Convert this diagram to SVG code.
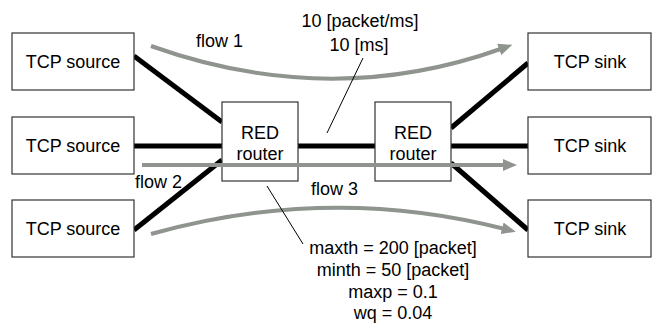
<svg xmlns="http://www.w3.org/2000/svg" width="654" height="323" viewBox="0 0 654 323">
  <style>
    text { font-family: "Liberation Sans", Arial, sans-serif; font-size: 18px; fill: #000; }
    .box { fill: #fff; stroke: #333; stroke-width: 1.2; }
    .link { stroke: #000; stroke-width: 5; fill: none; }
    .flow { stroke: #8f948f; stroke-width: 4; fill: none; marker-end: url(#head); }
    .leader { stroke: #000; stroke-width: 1; fill: none; }
  </style>
  <defs>
    <marker id="head" viewBox="0 0 14 12" markerWidth="14" markerHeight="12" refX="3" refY="6" orient="auto" markerUnits="userSpaceOnUse">
      <path d="M0,0 L14,6 L0,12 z" fill="#8f948f"/>
    </marker>
  </defs>

  <!-- physical links -->
  <g id="links">
    <line class="link" x1="134" y1="56" x2="222" y2="122"/>
    <line class="link" x1="134" y1="146" x2="222" y2="146"/>
    <line class="link" x1="134" y1="230" x2="222" y2="160"/>
    <line class="link" x1="298" y1="146" x2="375" y2="146"/>
    <line class="link" x1="451" y1="128" x2="528" y2="63"/>
    <line class="link" x1="451" y1="146" x2="528" y2="146"/>
    <line class="link" x1="451" y1="163" x2="528" y2="230"/>
  </g>

  <!-- nodes -->
  <g id="src1"><rect class="box" x="12" y="33" width="122" height="57"/><text x="73" y="68" text-anchor="middle">TCP source</text></g>
  <g id="src2"><rect class="box" x="12" y="117" width="122" height="57"/><text x="73" y="152" text-anchor="middle">TCP source</text></g>
  <g id="src3"><rect class="box" x="12" y="200" width="122" height="57"/><text x="73" y="235" text-anchor="middle">TCP source</text></g>
  <g id="sink1"><rect class="box" x="528" y="33" width="123" height="57"/><text x="590" y="68" text-anchor="middle">TCP sink</text></g>
  <g id="sink2"><rect class="box" x="528" y="117" width="123" height="57"/><text x="590" y="152" text-anchor="middle">TCP sink</text></g>
  <g id="sink3"><rect class="box" x="528" y="200" width="123" height="57"/><text x="590" y="235" text-anchor="middle">TCP sink</text></g>
  <g id="router1"><rect class="box" x="222" y="102" width="76" height="79"/><text x="260" y="139" text-anchor="middle">RED</text><text x="260" y="160" text-anchor="middle">router</text></g>
  <g id="router2"><rect class="box" x="375" y="102" width="76" height="79"/><text x="413" y="139" text-anchor="middle">RED</text><text x="413" y="160" text-anchor="middle">router</text></g>

  <!-- traffic flows -->
  <g id="flows">
    <path class="flow" d="M151,46 Q330,110 502,48.5"/>
    <path class="flow" d="M142,165 L506,165"/>
    <path class="flow" d="M151,234 Q330,184 505,229"/>
  </g>

  <!-- callout leaders -->
  <g id="leaders">
    <line class="leader" x1="363" y1="58" x2="327" y2="133"/>
    <line class="leader" x1="267" y1="186" x2="303" y2="244"/>
  </g>

  <!-- labels -->
  <g id="labels">
    <text x="196" y="47">flow 1</text>
    <text x="135" y="188">flow 2</text>
    <text x="311" y="195">flow 3</text>
    <text x="360" y="27" text-anchor="middle">10 [packet/ms]</text>
    <text x="359" y="51" text-anchor="middle">10 [ms]</text>
    <text x="393" y="254" text-anchor="middle">maxth = 200 [packet]</text>
    <text x="393" y="276" text-anchor="middle">minth = 50 [packet]</text>
    <text x="393" y="298" text-anchor="middle">maxp = 0.1</text>
    <text x="393" y="319" text-anchor="middle">wq = 0.04</text>
  </g>
</svg>
